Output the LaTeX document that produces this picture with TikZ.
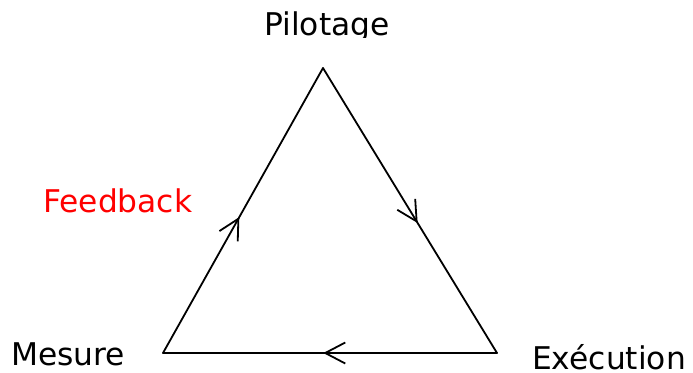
\documentclass[tikz,border=0pt]{standalone}
\usepackage{fontspec}
\setmainfont{DejaVu Sans}
\usetikzlibrary{arrows.meta,decorations.markings}
\begin{document}
\begin{tikzpicture}[x=1pt,y=-1pt,
  lbl/.style={inner sep=0pt,font=\fontsize{31.3}{36}\selectfont},
  edge/.style={line width=1.8pt,line cap=round,line join=round},
  midarrow/.style={postaction={decorate},decoration={markings,
    mark=at position #1 with {\arrow{Straight Barb[length=20pt,width=21pt,line width=1.8pt]}}}}]
  \useasboundingbox (0,0) rectangle (693,372);
  % corners of the cycle
  \coordinate (P) at (323,68);
  \coordinate (M) at (163,353);
  \coordinate (E) at (497,353);
  % labels
  \begin{scope}
    \clip (0,0) rectangle (693,37);
    \node[lbl,anchor=base] (tp) at (327,35) {Pilotage};
  \end{scope}
  \node[lbl,anchor=base] (tm) at (68,365) {Mesure};
  \node[lbl,anchor=base west] (te) at (532,369) {Exécution};
  \node[lbl,anchor=base west,text={rgb,255:red,255;green,0;blue,0}] (tf) at (43,212) {Feedback};
  % cycle edges
  \draw[edge,midarrow=0.477] (M) -- (P);
  \draw[edge,midarrow=0.544] (P) -- (E);
  \draw[edge,midarrow=0.52] (E) -- (M);
\end{tikzpicture}
\end{document}
